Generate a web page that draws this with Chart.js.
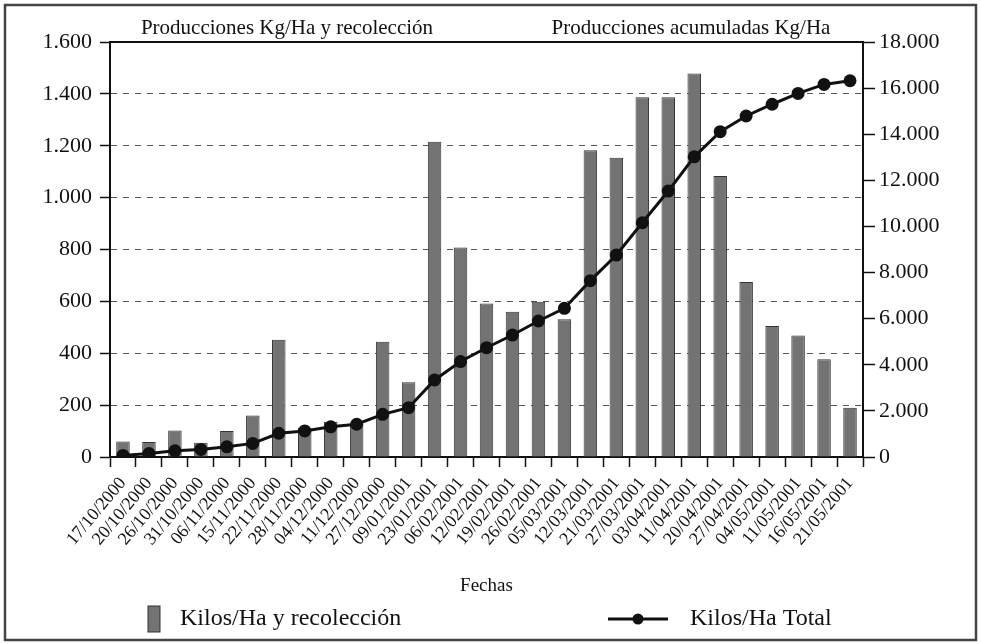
<!DOCTYPE html>
<html>
<head>
<meta charset="utf-8">
<script src="https://cdn.jsdelivr.net/npm/chart.js@4.4.0/dist/chart.umd.min.js"></script>
<style>
  html, body { margin: 0; padding: 0; background: #fff; }
  #wrap { width: 981px; height: 644px; }
</style>
</head>
<body>
<div id="wrap"><canvas id="chart" width="981" height="644"></canvas></div>
<script>
// values
const fechas = [
  '17/10/2000', '20/10/2000', '26/10/2000', '31/10/2000', '06/11/2000', '15/11/2000',
  '22/11/2000', '28/11/2000', '04/12/2000', '11/12/2000', '27/12/2000', '09/01/2001',
  '23/01/2001', '06/02/2001', '12/02/2001', '19/02/2001', '26/02/2001', '05/03/2001',
  '12/03/2001', '21/03/2001', '27/03/2001', '03/04/2001', '11/04/2001', '20/04/2001',
  '27/04/2001', '04/05/2001', '11/05/2001', '16/05/2001', '21/05/2001'
];
const kilosRecoleccion = [
  60, 58, 102, 55, 100, 160, 452, 112, 136, 125, 444, 288, 1215, 808, 592,
  560, 599, 531, 1183, 1154, 1387, 1387, 1479, 1083, 675, 505, 468, 377, 190
];
const kilosTotal = [
  70, 150, 270, 330, 440, 590, 1030, 1130, 1310, 1420, 1850, 2140, 3340, 4140, 4740,
  5290, 5900, 6450, 7650, 8760, 10160, 11535, 13020, 14110, 14790, 15300, 15770, 16160, 16320
];
const leftAxis = { min: 0, max: 1600, step: 200 };
const rightAxis = { min: 0, max: 18000, step: 2000 };

const serif = "'Liberation Serif', 'DejaVu Serif', serif";
const ink = '#111';
const barFill = '#737373';
const barEdge = '#333';

Chart.defaults.font.family = serif;
Chart.defaults.color = ink;

const fmt = v => String(v).replace(/\B(?=(\d{3})+(?!\d))/g, '.');

// titles, frame and legend
const decor = {
  id: 'decor',
  afterDraw(chart) {
    const { ctx, chartArea: a } = chart;
    ctx.save();
    // outer frame
    ctx.strokeStyle = '#444';
    ctx.lineWidth = 2.5;
    ctx.strokeRect(5, 5, 971, 635);
    // top edge of the plot
    ctx.strokeStyle = ink;
    ctx.lineWidth = 2;
    ctx.beginPath();
    ctx.moveTo(a.left, a.top);
    ctx.lineTo(a.right, a.top);
    ctx.stroke();
    // titles
    ctx.fillStyle = ink;
    ctx.font = '21px ' + serif;
    ctx.textAlign = 'center';
    ctx.textBaseline = 'middle';
    ctx.fillText('Producciones Kg/Ha y recolección', 287, 28);
    ctx.fillText('Producciones acumuladas Kg/Ha', 691, 28);
    // legend
    const ly = 619;
    ctx.fillStyle = barFill;
    ctx.strokeStyle = barEdge;
    ctx.lineWidth = 1;
    ctx.fillRect(148, ly - 13, 12, 26);
    ctx.strokeRect(148, ly - 13, 12, 26);
    ctx.strokeStyle = ink;
    ctx.lineWidth = 3;
    ctx.beginPath();
    ctx.moveTo(608, ly);
    ctx.lineTo(668, ly);
    ctx.stroke();
    ctx.fillStyle = ink;
    ctx.beginPath();
    ctx.arc(638, ly, 5.5, 0, Math.PI * 2);
    ctx.fill();
    ctx.font = '24px ' + serif;
    ctx.textAlign = 'left';
    ctx.fillText('Kilos/Ha y recolección', 180, ly);
    ctx.fillText('Kilos/Ha Total', 690, ly);
    ctx.restore();
  }
};

new Chart(document.getElementById('chart'), {
  type: 'bar',
  data: {
    labels: fechas,
    datasets: [
      {
        type: 'line',
        label: 'Kilos/Ha Total',
        data: kilosTotal,
        yAxisID: 'y1',
        borderColor: ink,
        backgroundColor: ink,
        borderWidth: 3,
        pointRadius: 6.5,
        pointBorderWidth: 0,
        pointBackgroundColor: ink,
        tension: 0,
        order: 0
      },
      {
        type: 'bar',
        label: 'Kilos/Ha y recolección',
        data: kilosRecoleccion,
        yAxisID: 'y',
        backgroundColor: barFill,
        borderColor: barEdge,
        borderWidth: 1,
        barPercentage: 0.52,
        categoryPercentage: 1,
        order: 1
      }
    ]
  },
  options: {
    responsive: false,
    animation: false,
    layout: { padding: { top: 42, left: 0, right: 0, bottom: 44 } },
    plugins: { legend: { display: false }, tooltip: { enabled: false } },
    scales: {
      x: {
        grid: { drawOnChartArea: false, tickLength: 10, tickColor: ink, tickWidth: 1.5 },
        border: { color: ink, width: 2 },
        ticks: { autoSkip: false, minRotation: 50, maxRotation: 50, padding: 6, color: ink, font: { size: 18 } },
        title: { display: true, text: 'Fechas', color: ink, font: { size: 19 }, padding: { top: 0, bottom: 3 } },
        afterFit(s) { s.height = 143; }
      },
      y: {
        position: 'left',
        min: leftAxis.min,
        max: leftAxis.max,
        ticks: { stepSize: leftAxis.step, padding: 8, color: ink, font: { size: 22 }, callback: fmt },
        grid: { color: '#555', lineWidth: 1, tickLength: 10, tickColor: ink, tickWidth: 1.5 },
        border: { color: ink, width: 2, dash: [6, 6] },
        afterFit(s) { s.width = 110; }
      },
      y1: {
        position: 'right',
        min: rightAxis.min,
        max: rightAxis.max,
        ticks: { stepSize: rightAxis.step, padding: 4, color: ink, font: { size: 22 }, callback: fmt },
        grid: { drawOnChartArea: false, tickLength: 12, tickColor: ink, tickWidth: 1.5 },
        border: { color: ink, width: 2 },
        afterFit(s) { s.width = 118; }
      }
    }
  },
  plugins: [decor]
});
</script>
</body>
</html>
